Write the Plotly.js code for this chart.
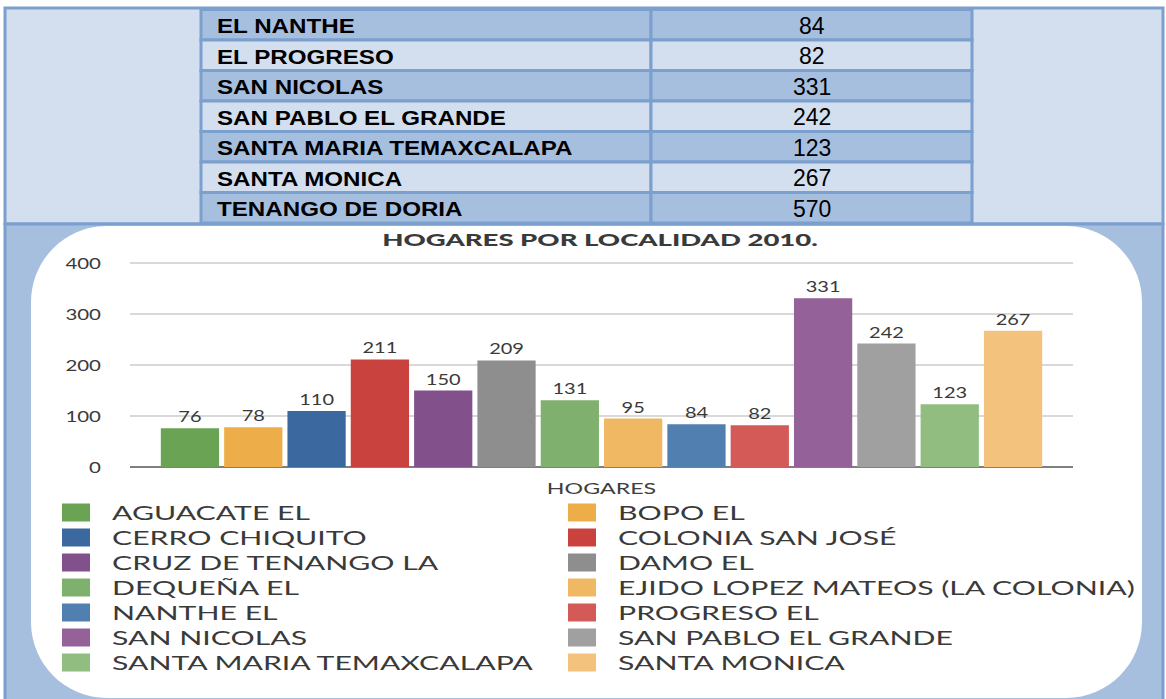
<!DOCTYPE html>
<html>
<head>
<meta charset="utf-8">
<script src="https://cdn.plot.ly/plotly-3.0.1.min.js"></script>
<style>
  html, body { margin: 0; padding: 0; background: #ffffff; }
  #chart { width: 1166px; height: 699px; }
</style>
</head>
<body>
<div id="chart"></div>
<script>
// ---------- data ----------
const tableNames = ["EL NANTHE", "EL PROGRESO", "SAN NICOLAS", "SAN PABLO EL GRANDE",
  "SANTA MARIA TEMAXCALAPA", "SANTA MONICA", "TENANGO DE DORIA"];
const tableValues = [84, 82, 331, 242, 123, 267, 570];

const categories = ["AGUACATE EL", "BOPO EL", "CERRO CHIQUITO", "COLONIA SAN JOSÉ",
  "CRUZ DE TENANGO LA", "DAMO EL", "DEQUEÑA EL", "EJIDO LOPEZ MATEOS (LA COLONIA)",
  "NANTHE EL", "PROGRESO EL", "SAN NICOLAS", "SAN PABLO EL GRANDE",
  "SANTA MARIA TEMAXCALAPA", "SANTA MONICA"];
const hogares = [76, 78, 110, 211, 150, 209, 131, 95, 84, 82, 331, 242, 123, 267];
const seriesColors = ["#6aa354", "#edae49", "#3b689f", "#c9423e", "#82518c", "#8e8e8e",
  "#7fb06d", "#f0b862", "#5180b0", "#d35a56", "#956199", "#a0a0a0", "#91bd80", "#f3c27c"];
const xCategory = ["HOGARES"];
const chartTitle = "HOGARES POR LOCALIDAD 2010.";

// ---------- helpers (pixel -> paper) ----------
const W = 1166, H = 699;
const px = x => x / W;
const py = y => 1 - y / H;

const TXT = "#404040";
const BORDER = "#7ba0cd";
const DARK = "#a7bfde";
const LIGHT = "#d3dfee";

// ---------- traces ----------
const traces = categories.map((c, i) => ({
  type: "bar",
  name: c,
  x: xCategory,
  y: [hogares[i]],
  marker: { color: seriesColors[i] },
  text: [String(hogares[i])],
  textposition: "outside",
  textfont: { family: "Lato, sans-serif", size: 16, color: "#3a3a3a" },
  cliponaxis: false,
  hoverinfo: "none"
}));

// ---------- shapes ----------
const shapes = [];
function rect(x0, y0, x1, y1, fill, lw, lc) {
  shapes.push({ type: "rect", xref: "paper", yref: "paper", layer: "below",
    x0: px(x0), x1: px(x1), y0: py(y1), y1: py(y0),
    fillcolor: fill, line: { width: lw, color: lc || BORDER } });
}
// table frame
rect(5, 8, 1163, 224, LIGHT, 3);
// lower cell (chart container)
rect(5, 224, 1163, 712, DARK, 3);
// rounded white panel
(function () {
  const L = 31, R = 1142, T = 226, B = 698, r = 76, k = 0.5523 * r;
  const P = (x, y) => px(x) + "," + py(y);
  const d = "M" + P(L + r, T) + " L" + P(R - r, T) +
    " C" + P(R - r + k, T) + " " + P(R, T + r - k) + " " + P(R, T + r) +
    " L" + P(R, B - r) +
    " C" + P(R, B - r + k) + " " + P(R - r + k, B) + " " + P(R - r, B) +
    " L" + P(L + r, B) +
    " C" + P(L + r - k, B) + " " + P(L, B - r + k) + " " + P(L, B - r) +
    " L" + P(L, T + r) +
    " C" + P(L, T + r - k) + " " + P(L + r - k, T) + " " + P(L + r, T) + " Z";
  shapes.push({ type: "path", xref: "paper", yref: "paper", layer: "below", path: d,
    fillcolor: "#ffffff", line: { width: 0 } });
})();
// table rows
const rowTop = 9.5, rowH = 30.5;
const annotations = [];
const annStretch = [];
tableNames.forEach((n, i) => {
  const y0 = rowTop + i * rowH, y1 = y0 + rowH;
  const fill = i % 2 === 0 ? DARK : LIGHT;
  rect(201, y0, 651, y1, fill, 3);
  rect(651, y0, 972, y1, fill, 3);
  const yc = py((y0 + y1) / 2 + 1);
  annotations.push({ xref: "paper", yref: "paper", x: px(215), y: yc, xanchor: "left",
    yanchor: "middle", align: "left", showarrow: false, text: n,
    font: { family: "Liberation Sans, Arial, sans-serif", size: 21, color: "#000000", weight: 700 } });
  annStretch.push(1.15);
  annotations.push({ xref: "paper", yref: "paper", x: px(811.5), y: yc, xanchor: "center",
    yanchor: "middle", align: "center", showarrow: false, text: String(tableValues[i]),
    font: { family: "Liberation Sans, Arial, sans-serif", size: 23, color: "#000000" } });
  annStretch.push(1.0);
});
// legend (two columns, row-major)
categories.forEach((c, i) => {
  const row = Math.floor(i / 2), col = i % 2;
  const xs = 62 + col * 506;
  const yc = 512.5 + row * 25;
  rect(xs, yc - 9, xs + 28, yc + 9, seriesColors[i], 0, seriesColors[i]);
  annotations.push({ xref: "paper", yref: "paper", x: px(xs + 48), y: py(yc), xanchor: "left",
    yanchor: "middle", align: "left", showarrow: false, text: c,
    font: { family: "Lato, sans-serif", size: 19, color: "#3a3a3a" } });
  annStretch.push(1.59);
});

// ---------- layout ----------
const layout = {
  width: W, height: H,
  margin: { l: 0, r: 0, t: 0, b: 0, pad: 0 },
  paper_bgcolor: "#ffffff",
  plot_bgcolor: "rgba(0,0,0,0)",
  showlegend: false,
  barmode: "group",
  bargap: 0.06,
  bargroupgap: 0.08,
  title: { text: chartTitle, xref: "paper", yref: "paper", x: px(600), xanchor: "center",
    y: py(240), yanchor: "middle",
    font: { family: "Lato, sans-serif", size: 16, color: "#3a3a3a", weight: 900 } },
  xaxis: { domain: [px(130), px(1073)], type: "category", showgrid: false, zeroline: false,
    showline: false, ticks: "", ticklabelstandoff: 10,
    tickfont: { family: "Lato, sans-serif", size: 16, color: TXT }, fixedrange: true },
  yaxis: { domain: [py(467), py(262)], range: [0, 402], tick0: 0, dtick: 100,
    showgrid: true, gridcolor: "#d9d9d9", gridwidth: 2,
    zeroline: true, zerolinecolor: "#7f7f7f", zerolinewidth: 2,
    showline: false, ticks: "", ticklabelstandoff: 28,
    tickfont: { family: "Lato, sans-serif", size: 16, color: "#3a3a3a" }, fixedrange: true },
  shapes: shapes,
  annotations: annotations
};

function stretchText(el, f) {
  if (!el || f === 1) return;
  const w = el.getComputedTextLength();
  el.setAttribute("textLength", (w * f).toFixed(1));
  el.setAttribute("lengthAdjust", "spacingAndGlyphs");
}

Plotly.newPlot("chart", traces, layout, { staticPlot: true, displayModeBar: false }).then(gd => {
  // the source picture is horizontally stretched; emulate it
  annStretch.forEach((f, i) => {
    stretchText(gd.querySelector('.annotation[data-index="' + i + '"] .annotation-text'), f);
  });
  gd.querySelectorAll(".gtitle").forEach(t => stretchText(t, 1.72));
  gd.querySelectorAll(".ytick text").forEach(t => stretchText(t, 1.28));
  gd.querySelectorAll(".xtick text").forEach(t => stretchText(t, 1.45));
  gd.querySelectorAll("text.bartext").forEach(t => stretchText(t, 1.25));
});
</script>
</body>
</html>
